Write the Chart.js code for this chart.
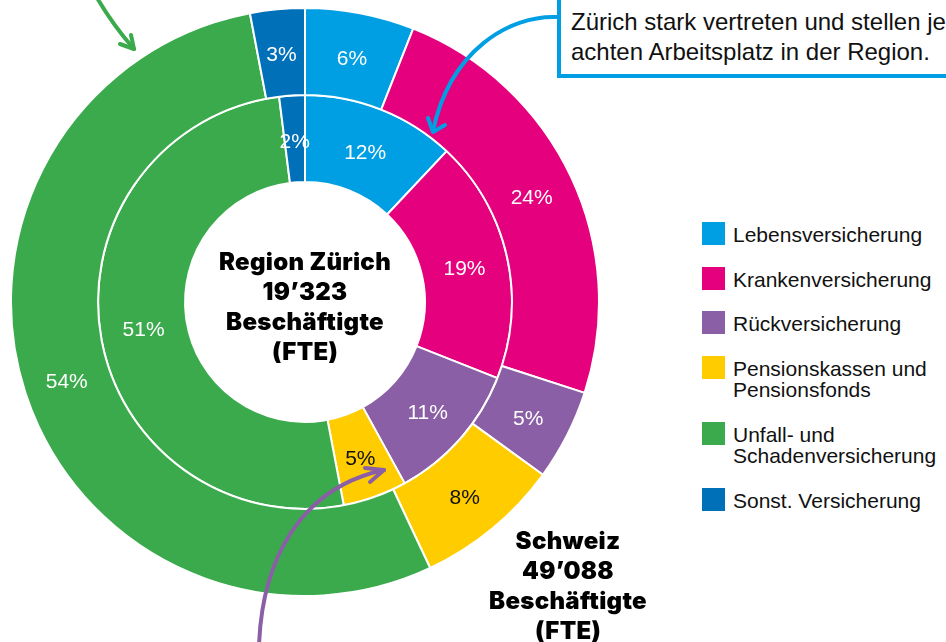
<!DOCTYPE html>
<html>
<head>
<meta charset="utf-8">
<script src="https://cdn.jsdelivr.net/npm/chart.js@4"></script>
<style>
  body { margin: 0; width: 946px; height: 642px; overflow: hidden; background: #fff;
         font-family: "Liberation Sans", Arial, sans-serif; position: relative; }
  #chart-wrap { position: absolute; left: 10px; top: 7px; width: 590px; height: 590px; }
  .big { position: absolute; text-align: center; font-family: Inter, Roboto, "Liberation Sans", sans-serif;
         font-weight: 900; font-size: 24px; line-height: 30px; color: #000; letter-spacing: 0.3px; }
  #legend { position: absolute; left: 702px; top: 222px; display: flex; flex-direction: column; gap: 21px; }
  .item { display: flex; align-items: flex-start; }
  .swatch { width: 23px; height: 23px; flex: none; }
  .item span { margin-left: 8px; margin-top: 2px; font-size: 21px; line-height: 21.5px; color: #111; white-space: pre-line; }
  #callout { position: absolute; left: 557px; top: -40px; width: 420px; height: 118px;
             border: 4px solid #009fe3; box-sizing: border-box; background: #fff;
             padding: 0 0 0 10px; font-size: 24px; line-height: 30px; color: #111; white-space: nowrap; }
  svg { position: absolute; left: 0; top: 0; }
</style>
</head>
<body>
<div id="chart-wrap"><canvas id="donut" width="590" height="590"></canvas></div>

<div class="big" style="left:185px; top:247px; width:240px;">Region Zürich<br>19’323<br>Beschäftigte<br>(FTE)</div>
<div class="big" style="left:448px; top:526px; width:240px;">Schweiz<br>49’088<br>Beschäftigte<br>(FTE)</div>

<div id="callout"><div style="height:43px"></div>Zürich stark vertreten und stellen jeden<br>achten Arbeitsplatz in der Region.</div>

<div id="legend"></div>

<svg width="946" height="642">
  <g fill="none" stroke-width="4" stroke-linecap="round" stroke-linejoin="round">
    <path d="M96 -4 Q 112 24 134 49" stroke="#3aaa4c"/>
    <path d="M120 44 L134 49 L131 35" stroke="#3aaa4c"/>
    <path d="M557 17 C 510 15, 450 50, 433 131" stroke="#009fe3"/>
    <path d="M428 118 L433 132 L445 125" stroke="#009fe3"/>
    <path d="M259 646 C 262 560, 300 488, 384 470" stroke="#8b5fa5"/>
    <path d="M365 468 L384 470 L370 482" stroke="#8b5fa5"/>
  </g>
</svg>

<script>
document.addEventListener('DOMContentLoaded', function () {
    // categories (same order for both rings, clockwise from 12 o'clock)
    const categories = [
        'Lebensversicherung',
        'Krankenversicherung',
        'Rückversicherung',
        'Pensionskassen und\nPensionsfonds',
        'Unfall- und\nSchadenversicherung',
        'Sonst. Versicherung'
    ];
    const colors = ['#009fe3', '#e5007e', '#8b5fa5', '#ffcc00', '#3aaa4c', '#0071b9'];

    // shares in percent
    const schweiz = [6, 24, 5, 8, 54, 3];         // outer ring
    const regionZuerich = [12, 19, 11, 5, 51, 2]; // inner ring

    // label colour per category (dark text on yellow)
    const labelColors = ['#fff', '#fff', '#fff', '#111', '#fff', '#fff'];

    // Build the legend from the arrays
    function renderLegend() {
        const legend = document.getElementById('legend');
        categories.forEach((name, i) => {
            const item = document.createElement('div');
            item.className = 'item';
            item.innerHTML = `<div class="swatch" style="background:${colors[i]}"></div><span>${name}</span>`;
            legend.appendChild(item);
        });
    }

    // Draw the percentage text in the middle of every slice
    const sliceLabels = {
        id: 'sliceLabels',
        afterDatasetsDraw(chart) {
            const ctx = chart.ctx;
            ctx.save();
            ctx.font = '21px "Liberation Sans", Arial, sans-serif';
            ctx.textAlign = 'center';
            ctx.textBaseline = 'middle';
            chart.data.datasets.forEach((ds, d) => {
                chart.getDatasetMeta(d).data.forEach((arc, i) => {
                    const pos = arc.tooltipPosition();
                    ctx.fillStyle = labelColors[i];
                    ctx.fillText(ds.data[i] + '%', pos.x, pos.y + 3);
                });
            });
            ctx.restore();
        }
    };

    function renderChart() {
        const ctx = document.getElementById('donut').getContext('2d');
        new Chart(ctx, {
            type: 'doughnut',
            data: {
                labels: categories,
                datasets: [{
                    label: 'Schweiz',
                    data: schweiz,
                    backgroundColor: colors,
                    borderColor: '#fff',
                    borderWidth: 2,
                    hoverBorderWidth: 2,
                    hoverOffset: 0
                }, {
                    label: 'Region Zürich',
                    data: regionZuerich,
                    backgroundColor: colors,
                    borderColor: '#fff',
                    borderWidth: 2,
                    hoverBorderWidth: 2,
                    hoverOffset: 0
                }]
            },
            options: {
                responsive: false,
                animation: false,
                cutout: '40.8%',
                layout: { padding: 0 },
                plugins: {
                    legend: { display: false },
                    tooltip: { enabled: false }
                }
            },
            plugins: [sliceLabels]
        });
    }

    renderLegend();
    renderChart();
});
</script>
</body>
</html>
